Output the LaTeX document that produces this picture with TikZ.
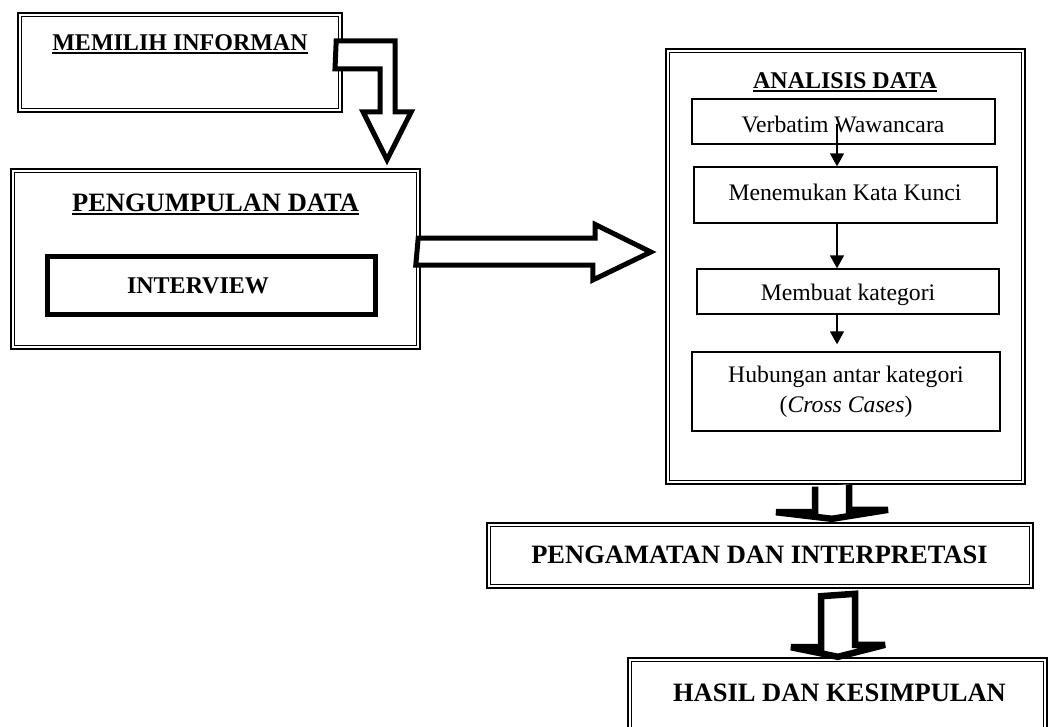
\documentclass[tikz,border=0pt]{standalone}
\usepackage{fontspec}
\setmainfont{Liberation Serif}
\usetikzlibrary{arrows.meta}
\tikzset{
  outerb/.style={draw, line width=2.4pt, inner sep=0pt},
  innerb/.style={line width=1.2pt},
  thinb/.style={draw, line width=1.3pt, inner sep=0pt},
  heavyb/.style={draw, line width=5.5pt, inner sep=0pt},
  blka/.style={draw, fill=white, line width=5pt, line join=miter, miter limit=4},
  blkb/.style={draw, fill=white, line width=6.5pt, line join=miter, miter limit=4},
  flowarr/.style={line width=1.3pt, -{Triangle[length=13pt,width=14pt]}},
  uline/.style={line width=2pt},
  boldA/.style={font=\fontsize{24}{28}\selectfont\bfseries, inner sep=0pt, anchor=base},
  boldB/.style={font=\fontsize{26.5}{30}\selectfont\bfseries, inner sep=0pt, anchor=base},
  plainT/.style={font=\fontsize{23.7}{30}\selectfont, inner sep=0pt, anchor=base}
}
\newcommand\dblinner[1]{\draw[innerb] ([shift={(5pt,-5pt)}]#1.north west) rectangle ([shift={(-5pt,5pt)}]#1.south east);}
\newcommand\ulunder[1]{\draw[uline] ([yshift=-3pt]#1.base west) -- ([yshift=-3pt]#1.base east);}
\begin{document}
\begin{tikzpicture}[x=1pt,y=-1pt]
\useasboundingbox (0,0) rectangle (1049,726);
\clip (0,0) rectangle (1049,726);
% ---- boxes
\node[outerb, minimum width=324pt, minimum height=99pt] (mem) at (180,62.5) {};
\dblinner{mem}
\node[outerb, minimum width=409pt, minimum height=180pt] (peng) at (215.5,259) {};
\dblinner{peng}
\node[heavyb, minimum width=328pt, minimum height=58pt] (intv) at (211.5,285.5) {};
\node[outerb, minimum width=359pt, minimum height=435pt] (ana) at (845.5,266.5) {};
\dblinner{ana}
\node[thinb, minimum width=303pt, minimum height=45pt] (verb) at (843.5,121.5) {};
\node[thinb, minimum width=303pt, minimum height=56pt] (men) at (845.5,195) {};
\node[thinb, minimum width=302pt, minimum height=45pt] (mbt) at (848,291.5) {};
\node[thinb, minimum width=308pt, minimum height=79pt] (hub) at (846,391.5) {};
\node[outerb, minimum width=546pt, minimum height=65pt] (obs) at (760,555.5) {};
\dblinner{obs}
\node[outerb, minimum width=419pt, minimum height=92pt] (res) at (837.5,704) {};
\dblinner{res}
% ---- texts
\node[boldA] (tmem) at (180,50) {MEMILIH INFORMAN};
\ulunder{tmem}
\node[boldB] (tpeng) at (215.5,211) {PENGUMPULAN DATA};
\ulunder{tpeng}
\node[boldA] (tintv) at (198,293) {INTERVIEW};
\node[boldA] (tana) at (845,88) {ANALISIS DATA};
\ulunder{tana}
\node[plainT] (tverb) at (843,132) {Verbatim Wawancara};
\node[plainT] (tmen) at (845,200) {Menemukan Kata Kunci};
\node[plainT] (tmbt) at (848,300) {Membuat kategori};
\node[font=\fontsize{23.7}{30}\selectfont, inner sep=0pt, align=center] (thub) at (846,392) {Hubungan antar kategori\\(\textit{Cross Cases})};
\node[boldB] (tobs) at (759.5,563) {PENGAMATAN DAN INTERPRETASI};
\node[boldB] (tres) at (839.5,701) {HASIL DAN KESIMPULAN};
% ---- block arrows
\coordinate (a1) at ([shift={(-7,29)}]mem.north east);
\coordinate (tipA) at ([shift={(171.5,-8)}]peng.north);
\draw[blka] (a1) -- ++(59,0) -- ++(0,71) -- ++(16,0) -- (tipA) -- ++(-24,-48) -- ++(17,0) -- ++(0,-43) -- ++(-45,0) -- cycle;
\coordinate (b1) at ([shift={(-3,-21)}]peng.east);
\coordinate (tipB) at ([shift={(-14,-14.5)}]ana.west);
\draw[blka] (b1) -- ++(177,0) -- ++(0,-13.5) -- (tipB) -- ++(-58,28) -- ++(0,-15) -- ++(-177,0) -- cycle;
\coordinate (c1) at ([shift={(-30.5,1.5)}]ana.south);
\coordinate (tipC) at ([shift={(72,-3)}]obs.north);
\draw[blkb] (c1) -- ++(0,25.5) -- ++(-39,0) -- (tipC) -- ++(56,-9) -- ++(-39,0) -- ++(0,-25.5);
\coordinate (d1) at ([shift={(61,7)}]obs.south);
\coordinate (tipD) at ([shift={(0.5,0)}]res.north);
\draw[blkb] (d1) -- ++(0,51) -- ++(-30,0) -- (tipD) -- ++(47,-12) -- ++(-30,0) -- ++(0,-51) -- cycle;
% ---- flow arrows
\draw[flowarr] ([xshift=-6.5pt,yshift=-2.5pt]verb.center) -- ([xshift=-8.5pt]men.north);
\draw[flowarr] ([xshift=-8.5pt]men.south) -- ([xshift=-11pt]mbt.north);
\draw[flowarr] ([xshift=-11pt]mbt.south) -- ([xshift=-9pt,yshift=7pt]hub.north);
\end{tikzpicture}
\end{document}
